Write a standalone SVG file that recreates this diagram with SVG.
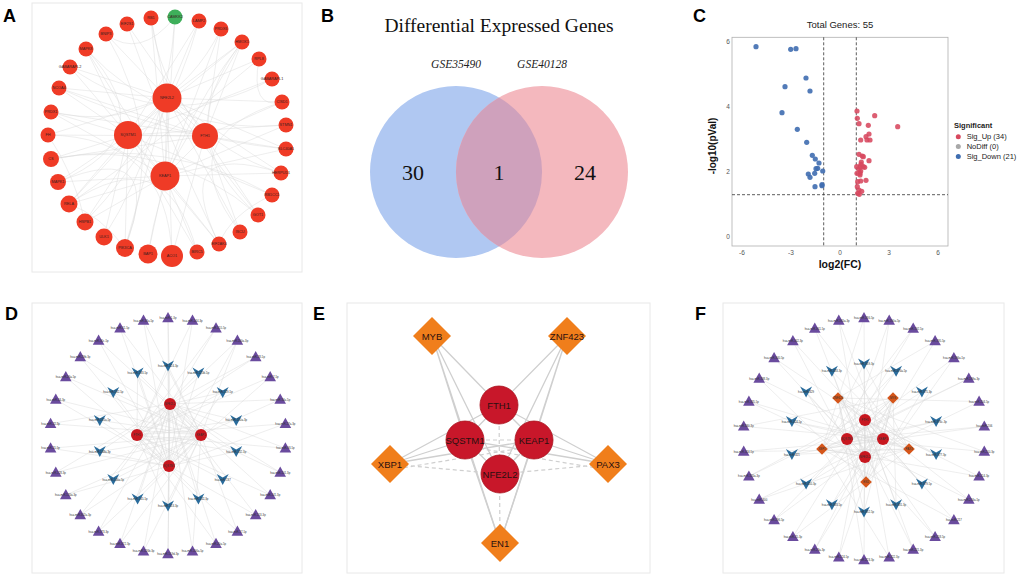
<svg xmlns="http://www.w3.org/2000/svg" xmlns:xlink="http://www.w3.org/1999/xlink" width="1020" height="577" viewBox="0 0 1020 577">
<style>
text{font-family:"Liberation Sans",Arial,sans-serif}
.serif{font-family:"Liberation Serif","Times New Roman",serif}
.box{fill:#fff;stroke:#e8e8e8;stroke-width:1}
.panel{font-size:18px;font-weight:bold;fill:#000}
.ea{stroke:#d9d9d9;stroke-width:.45;fill:none}
.an{fill:#ef3b26}
.ag{fill:#3eaf5a}
.at{font-size:3.8px;fill:#3a2020;text-anchor:middle;dominant-baseline:central}
.ed{stroke:#d9d9d9;stroke-width:.45;fill:none}
.tri{fill:#6a4b9e}
.vee{fill:#2a6c9c}
.dc{fill:#c8171f}
.fdm{fill:#d5561a}
.mt{font-size:2.8px;fill:#333;text-anchor:middle;dominant-baseline:central}
.ee{stroke:#cfcfcf;stroke-width:1.3;fill:none}
.eed{stroke:#cfcfcf;stroke-width:1.2;fill:none;stroke-dasharray:4 3}
.ec{fill:#c8172a;stroke:#a8101c;stroke-width:.8}
.edm{fill:#f07e1b}
.et{font-size:9.5px;fill:#2a1010;text-anchor:middle;dominant-baseline:central}
.tick{font-size:6.5px;fill:#555;text-anchor:middle}
.dash{stroke:#333;stroke-width:.8;stroke-dasharray:3 2;fill:none}
.up{fill:#d7485e;opacity:.88}
.dn{fill:#3f6db0;opacity:.9}
.leg{font-size:7.5px;fill:#222}
</style>
<defs>
<polygon id="tri" class="tri" points="0,-6 5.8,4.2 -5.8,4.2"/>
<path id="vee" class="vee" d="M-6,-5.5L0,-2L6,-5.5L0,5.5Z"/>
<polygon id="dia" class="fdm" points="0,-5.8 5.8,0 0,5.8 -5.8,0"/>
</defs>
<rect width="1020" height="577" fill="#fff"/>

<g id="panel-letters">
<text class="panel" x="3" y="22">A</text>
<text class="panel" x="321" y="22">B</text>
<text class="panel" x="693" y="22">C</text>
<text class="panel" x="5" y="320">D</text>
<text class="panel" x="313" y="320">E</text>
<text class="panel" x="695" y="320">F</text>
</g>

<!-- ================= PANEL A ================= -->
<rect class="box" x="32" y="3" width="270" height="269"/>
<g id="connectors-A">
<path class="ea" d="M167,98L151,18M167,98L106,34M167,98L70,67M167,98L59,88M167,98L48,135M167,98L69,204M167,98L85,222M167,98L125,248M167,98L172,256M167,98L258,215M167,98L281,173M167,98L286,149M167,98L282,102M167,98L259,59M167,98L242,42M167,98L199,21M167,98L240,232M167,98L128,135M167,98L205,136M167,98L165,176"/>
<path class="ea" d="M128,135L86,49M128,135L70,67M128,135L272,79M128,135L199,21M128,135L59,88M128,135L51,112M128,135L51,159M128,135L58,182M128,135L69,204M128,135L104,237M128,135L125,248M128,135L272,195M128,135L197,252M128,135L219,244M128,135L242,42M128,135L286,125M128,135L165,176M128,135L205,136"/>
<path class="ea" d="M205,136L59,88M205,136L51,112M205,136L172,256M205,136L240,232M205,136L242,42M205,136L286,149M205,136L282,102M205,136L258,215M205,136L221,29M205,136L48,135M205,136L51,159M205,136L127,24M205,136L165,176"/>
<path class="ea" d="M165,176L242,42M165,176L51,112M165,176L221,29M165,176L286,149M165,176L58,182M165,176L86,49M165,176L148,254M165,176L69,204M165,176L85,222M165,176L219,244M165,176L197,252M165,176L175,17M165,176L151,18M165,176L286,125M165,176L281,173"/>
<path class="ea" d="M151,18Q167,137 281,173M127,24Q167,137 219,244M86,49Q167,137 58,182M70,67Q167,137 272,79M106,34Q167,137 125,248M48,135Q167,137 172,256M51,159Q167,137 258,215M259,59Q167,137 69,204M199,21Q167,137 85,222M221,29Q167,137 51,112M286,125Q167,137 86,49M175,17Q167,137 104,237M59,88Q167,137 286,149M240,232Q167,137 282,102M219,244Q167,137 281,173M58,182Q167,137 125,248M242,42Q167,137 148,254M272,195Q167,137 51,159M197,252Q167,137 69,204M258,215Q167,137 242,42M69,204Q100,215 125,248M48,135Q75,175 85,222M259,59Q250,110 282,102M106,34Q140,60 175,17M272,195Q230,215 219,244"/>
</g>
<g id="a-rb1"><circle class="an" cx="151" cy="18" r="7.5"/><text class="at" x="151" y="18">RB1</text></g>
<g id="a-eif2s1"><circle class="an" cx="127" cy="24" r="7.5"/><text class="at" x="127" y="24">EIF2S1</text></g>
<g id="a-bnip3"><circle class="an" cx="106" cy="34" r="7.5"/><text class="at" x="106" y="34">BNIP3</text></g>
<g id="a-mapk8"><circle class="an" cx="86" cy="49" r="7.5"/><text class="at" x="86" y="49">MAPK8</text></g>
<g id="a-gabarapl2"><circle class="an" cx="70" cy="67" r="7.5"/><text class="at" x="70" y="67">GABARAPL2</text></g>
<g id="a-ncoa4"><circle class="an" cx="59" cy="88" r="7.5"/><text class="at" x="59" y="88">NCOA4</text></g>
<g id="a-prdx1"><circle class="an" cx="51" cy="112" r="7.5"/><text class="at" x="51" y="112">PRDX1</text></g>
<g id="a-fh"><circle class="an" cx="48" cy="135" r="7.5"/><text class="at" x="48" y="135">FH</text></g>
<g id="a-cs"><circle class="an" cx="51" cy="159" r="8"/><text class="at" x="51" y="159">CS</text></g>
<g id="a-mapk1"><circle class="an" cx="58" cy="182" r="8"/><text class="at" x="58" y="182">MAPK1</text></g>
<g id="a-rela"><circle class="an" cx="69" cy="204" r="8.5"/><text class="at" x="69" y="204">RELA</text></g>
<g id="a-hspb1"><circle class="an" cx="85" cy="222" r="8.5"/><text class="at" x="85" y="222">HSPB1</text></g>
<g id="a-ulk1"><circle class="an" cx="104" cy="237" r="8.5"/><text class="at" x="104" y="237">ULK1</text></g>
<g id="a-pik3ca"><circle class="an" cx="125" cy="248" r="9"/><text class="at" x="125" y="248">PIK3CA</text></g>
<g id="a-bap1"><circle class="an" cx="148" cy="254" r="9.5"/><text class="at" x="148" y="254">BAP1</text></g>
<g id="a-aco1"><circle class="an" cx="172" cy="256" r="11"/><text class="at" x="172" y="256">ACO1</text></g>
<g id="a-birc5"><circle class="an" cx="197" cy="252" r="7.5"/><text class="at" x="197" y="252">BIRC5</text></g>
<g id="a-eif2ak4"><circle class="an" cx="219" cy="244" r="7.5"/><text class="at" x="219" y="244">EIF2AK4</text></g>
<g id="a-iscu"><circle class="an" cx="240" cy="232" r="7.5"/><text class="at" x="240" y="232">ISCU</text></g>
<g id="a-got1"><circle class="an" cx="258" cy="215" r="7.5"/><text class="at" x="258" y="215">GOT1</text></g>
<g id="a-rb1cc1"><circle class="an" cx="272" cy="195" r="7.5"/><text class="at" x="272" y="195">RB1CC1</text></g>
<g id="a-herpud1"><circle class="an" cx="281" cy="173" r="7.5"/><text class="at" x="281" y="173">HERPUD1</text></g>
<g id="a-slc40a1"><circle class="an" cx="286" cy="149" r="7.5"/><text class="at" x="286" y="149">SLC40A1</text></g>
<g id="a-stmn1"><circle class="an" cx="286" cy="125" r="7.5"/><text class="at" x="286" y="125">STMN1</text></g>
<g id="a-cisd1"><circle class="an" cx="282" cy="102" r="7.5"/><text class="at" x="282" y="102">CISD1</text></g>
<g id="a-gabarapl1"><circle class="an" cx="272" cy="79" r="7.5"/><text class="at" x="272" y="79">GABARAPL1</text></g>
<g id="a-rpl8"><circle class="an" cx="259" cy="59" r="7.5"/><text class="at" x="259" y="59">RPL8</text></g>
<g id="a-hmox1"><circle class="an" cx="242" cy="42" r="7.5"/><text class="at" x="242" y="42">HMOX1</text></g>
<g id="a-prdx6"><circle class="an" cx="221" cy="29" r="7.5"/><text class="at" x="221" y="29">PRDX6</text></g>
<g id="a-lamp2"><circle class="an" cx="199" cy="21" r="7.5"/><text class="at" x="199" y="21">LAMP2</text></g>
<g id="a-camkk2"><circle class="ag" cx="175" cy="17" r="7.5"/><text class="at" x="175" y="17">CAMKK2</text></g>
<g id="a-nfe2l2"><circle class="an" cx="167" cy="98" r="14.5"/><text class="at" x="167" y="98">NFE2L2</text></g>
<g id="a-sqstm1"><circle class="an" cx="128" cy="135" r="14"/><text class="at" x="128" y="135">SQSTM1</text></g>
<g id="a-fth1"><circle class="an" cx="205" cy="136" r="13"/><text class="at" x="205" y="136">FTH1</text></g>
<g id="a-keap1"><circle class="an" cx="165" cy="176" r="14.5"/><text class="at" x="165" y="176">KEAP1</text></g>

<!-- ================= PANEL B ================= -->
<g id="venn">
<text class="serif" x="499" y="32" font-size="19.5" text-anchor="middle" fill="#111">Differential Expressed Genes</text>
<text class="serif" x="456" y="68" font-size="11.5" font-style="italic" text-anchor="middle" fill="#222">GSE35490</text>
<text class="serif" x="542" y="68" font-size="11.5" font-style="italic" text-anchor="middle" fill="#222">GSE40128</text>
<g id="set-gse35490"><circle cx="456" cy="172" r="86" fill="#b0c8f2"/></g>
<g id="set-gse40128"><circle cx="542" cy="172" r="86" fill="#f4b8be"/></g>
<g id="set-overlap"><path d="M499,97.5A86,86 0 0,1 499,246.5A86,86 0 0,1 499,97.5Z" fill="#cfa1bc"/></g>
<text class="serif" x="413" y="180" font-size="22" text-anchor="middle" fill="#111">30</text>
<text class="serif" x="499" y="180" font-size="22" text-anchor="middle" fill="#111">1</text>
<text class="serif" x="585" y="180" font-size="22" text-anchor="middle" fill="#111">24</text>
</g>

<!-- ================= PANEL C ================= -->
<g id="volcano">
<text x="840" y="28.3" font-size="9.5" text-anchor="middle" fill="#222">Total Genes: 55</text>
<rect x="732" y="37.3" width="216" height="208.7" fill="none" stroke="#b0b0b0" stroke-width=".8"/>
<line class="dash" x1="823.7" y1="37.3" x2="823.7" y2="246"/>
<line class="dash" x1="856.3" y1="37.3" x2="856.3" y2="246"/>
<line class="dash" x1="732" y1="194.7" x2="948" y2="194.7"/>
<g id="points-down">
<circle class="dn" cx="756" cy="46.7" r="2.6"/><circle class="dn" cx="790.7" cy="49.3" r="2.6"/><circle class="dn" cx="796" cy="48.7" r="2.6"/><circle class="dn" cx="806" cy="78" r="2.6"/><circle class="dn" cx="785" cy="86.7" r="2.6"/><circle class="dn" cx="810" cy="91" r="2.6"/><circle class="dn" cx="782" cy="112.7" r="2.6"/><circle class="dn" cx="797.3" cy="129.3" r="2.6"/><circle class="dn" cx="806.7" cy="142.3" r="2.6"/><circle class="dn" cx="812.3" cy="155.3" r="2.6"/><circle class="dn" cx="815.3" cy="159" r="2.6"/><circle class="dn" cx="819" cy="163" r="2.6"/><circle class="dn" cx="817.7" cy="168.3" r="2.6"/><circle class="dn" cx="816" cy="168.7" r="2.6"/><circle class="dn" cx="822.7" cy="171" r="2.6"/><circle class="dn" cx="814.7" cy="173.3" r="2.6"/><circle class="dn" cx="808.3" cy="174" r="2.6"/><circle class="dn" cx="810" cy="177.3" r="2.6"/><circle class="dn" cx="815" cy="186.7" r="2.6"/><circle class="dn" cx="822" cy="185.7" r="2.6"/><circle class="dn" cx="822" cy="184.7" r="2.6"/>
</g>
<g id="points-up">
<circle class="up" cx="857" cy="111" r="2.6"/><circle class="up" cx="857.3" cy="118.3" r="2.6"/><circle class="up" cx="859" cy="123.7" r="2.6"/><circle class="up" cx="874.7" cy="115.7" r="2.6"/><circle class="up" cx="868.3" cy="125.3" r="2.6"/><circle class="up" cx="897.7" cy="126.7" r="2.6"/><circle class="up" cx="869" cy="134" r="2.6"/><circle class="up" cx="866" cy="136.7" r="2.6"/><circle class="up" cx="867" cy="140" r="2.6"/><circle class="up" cx="860.7" cy="140" r="2.6"/><circle class="up" cx="859" cy="154.3" r="2.6"/><circle class="up" cx="862.3" cy="156" r="2.6"/><circle class="up" cx="869" cy="160.7" r="2.6"/><circle class="up" cx="861.3" cy="162" r="2.6"/><circle class="up" cx="856.7" cy="166.7" r="2.6"/><circle class="up" cx="860" cy="166.7" r="2.6"/><circle class="up" cx="863.3" cy="166.7" r="2.6"/><circle class="up" cx="864.7" cy="167.3" r="2.6"/><circle class="up" cx="859" cy="169.3" r="2.6"/><circle class="up" cx="860.7" cy="171" r="2.6"/><circle class="up" cx="860" cy="173.3" r="2.6"/><circle class="up" cx="860" cy="175" r="2.6"/><circle class="up" cx="857.7" cy="181.7" r="2.6"/><circle class="up" cx="860.7" cy="181" r="2.6"/><circle class="up" cx="866" cy="180.3" r="2.6"/><circle class="up" cx="857.3" cy="186.7" r="2.6"/><circle class="up" cx="859" cy="190" r="2.6"/><circle class="up" cx="861.7" cy="191.3" r="2.6"/><circle class="up" cx="857.7" cy="193.3" r="2.6"/><circle class="up" cx="859.3" cy="194.3" r="2.6"/><circle class="up" cx="857" cy="173.3" r="2.6"/><circle class="up" cx="861" cy="164.3" r="2.6"/><circle class="up" cx="863.3" cy="156.7" r="2.6"/><circle class="up" cx="870" cy="140" r="2.6"/>
</g>
<text class="tick" x="742" y="254.5">-6</text>
<text class="tick" x="791" y="254.5">-3</text>
<text class="tick" x="840" y="254.5">0</text>
<text class="tick" x="889" y="254.5">3</text>
<text class="tick" x="938" y="254.5">6</text>
<text class="tick" x="728" y="239.3">0</text>
<text class="tick" x="728" y="174.3">2</text>
<text class="tick" x="728" y="109.3">4</text>
<text class="tick" x="728" y="44.3">6</text>
<text x="840" y="268" font-size="10.5" font-weight="bold" text-anchor="middle" fill="#111">log2(FC)</text>
<text x="716" y="146" font-size="10" font-weight="bold" text-anchor="middle" fill="#111" transform="rotate(-90 716 146)">-log10(pVal)</text>
<g id="legend">
<text class="leg" x="954" y="127.7" font-weight="bold">Significant</text>
<circle cx="958.3" cy="136.8" r="2.5" fill="#d7485e"/><text class="leg" x="966.7" y="139.3">Sig_Up (34)</text>
<circle cx="958.3" cy="146.5" r="2.5" fill="#a8a8a8"/><text class="leg" x="966.7" y="149">NoDiff (0)</text>
<circle cx="958.3" cy="156.5" r="2.5" fill="#3f6db0"/><text class="leg" x="966.7" y="159">Sig_Down (21)</text>
</g>
</g>

<!-- ================= PANEL D ================= -->
<rect class="box" x="32" y="303" width="270" height="270"/>
<g id="connectors-D">
<path class="ed" d="M168,318L170,404M168,318L169,466M192.5,320.6L137,435M192.5,320.6L169,466M216,328.2L170,404M216,328.2L137,435M237.4,340.5L201,435M237.4,340.5L169,466M237.4,340.5L137,435M255.7,357L170,404M255.7,357L137,435M270.2,377L137,435M270.2,377L169,466M280.2,399.5L170,404M280.2,399.5L201,435M285.4,423.7L137,435M285.4,423.7L169,466M285.4,448.3L170,404M285.4,448.3L137,435M280.2,472.5L201,435M280.2,472.5L170,404M270.2,495L137,435M270.2,495L170,404M255.7,515L169,466M255.7,515L170,404M237.4,531.5L137,435M237.4,531.5L201,435M216,543.8L170,404M216,543.8L137,435M192.5,551.4L170,404M192.5,551.4L201,435M168,554L170,404M168,554L169,466M143.5,551.4L170,404M143.5,551.4L201,435M120,543.8L201,435M120,543.8L170,404M98.6,531.5L201,435M98.6,531.5L170,404M80.3,515L170,404M80.3,515L201,435M65.8,495L201,435M65.8,495L169,466M55.8,472.5L170,404M55.8,472.5L201,435M50.6,448.3L201,435M50.6,448.3L169,466M50.6,423.7L201,435M50.6,423.7L170,404M55.8,399.5L169,466M55.8,399.5L201,435M65.8,377L201,435M65.8,377L169,466M80.3,357L169,466M80.3,357L201,435M98.6,340.5L169,466M98.6,340.5L201,435M120,328.2L201,435M120,328.2L169,466M143.5,320.6L201,435M143.5,320.6L169,466"/>
<path class="ed" d="M168,366L137,435M168,366L201,435M168,366L169,466M198.4,372.9L137,435M198.4,372.9L169,466M222.7,392.4L137,435M222.7,392.4L169,466M222.7,392.4L170,404M236.2,420.4L137,435M236.2,420.4L170,404M236.2,451.6L137,435M236.2,451.6L170,404M236.2,451.6L169,466M222.7,479.6L170,404M222.7,479.6L137,435M198.4,499.1L170,404M198.4,499.1L137,435M168,506L170,404M168,506L137,435M168,506L201,435M137.6,499.1L170,404M137.6,499.1L201,435M113.3,479.6L201,435M113.3,479.6L170,404M99.8,451.6L201,435M99.8,451.6L170,404M99.8,451.6L169,466M99.8,420.4L201,435M99.8,420.4L169,466M113.3,392.4L201,435M113.3,392.4L169,466M137.6,372.9L201,435M137.6,372.9L169,466M137.6,372.9L137,435"/>
</g>
<g id="d-t0"><use href="#tri" x="168" y="318"/><text class="mt" x="168" y="318">hsa-miR-1-3p</text></g>
<g id="d-t1"><use href="#tri" x="192.5" y="320.6"/><text class="mt" x="192.5" y="320.6">hsa-miR-144-3p</text></g>
<g id="d-t2"><use href="#tri" x="216" y="328.2"/><text class="mt" x="216" y="328.2">hsa-miR-155-5p</text></g>
<g id="d-t3"><use href="#tri" x="237.4" y="340.5"/><text class="mt" x="237.4" y="340.5">hsa-miR-200a-3p</text></g>
<g id="d-t4"><use href="#tri" x="255.7" y="357"/><text class="mt" x="255.7" y="357">hsa-miR-28-5p</text></g>
<g id="d-t5"><use href="#tri" x="270.2" y="377"/><text class="mt" x="270.2" y="377">hsa-miR-7-5p</text></g>
<g id="d-t6"><use href="#tri" x="280.2" y="399.5"/><text class="mt" x="280.2" y="399.5">hsa-miR-34a-5p</text></g>
<g id="d-t7"><use href="#tri" x="285.4" y="423.7"/><text class="mt" x="285.4" y="423.7">hsa-miR-27a-3p</text></g>
<g id="d-t8"><use href="#tri" x="285.4" y="448.3"/><text class="mt" x="285.4" y="448.3">hsa-miR-93-5p</text></g>
<g id="d-t9"><use href="#tri" x="280.2" y="472.5"/><text class="mt" x="280.2" y="472.5">hsa-miR-101-3p</text></g>
<g id="d-t10"><use href="#tri" x="270.2" y="495"/><text class="mt" x="270.2" y="495">hsa-miR-141-3p</text></g>
<g id="d-t11"><use href="#tri" x="255.7" y="515"/><text class="mt" x="255.7" y="515">hsa-miR-153-3p</text></g>
<g id="d-t12"><use href="#tri" x="237.4" y="531.5"/><text class="mt" x="237.4" y="531.5">hsa-miR-17-5p</text></g>
<g id="d-t13"><use href="#tri" x="216" y="543.8"/><text class="mt" x="216" y="543.8">hsa-miR-20a-5p</text></g>
<g id="d-t14"><use href="#tri" x="192.5" y="551.4"/><text class="mt" x="192.5" y="551.4">hsa-miR-106a-5p</text></g>
<g id="d-t15"><use href="#tri" x="168" y="554"/><text class="mt" x="168" y="554">hsa-miR-519d-3p</text></g>
<g id="d-t16"><use href="#tri" x="143.5" y="551.4"/><text class="mt" x="143.5" y="551.4">hsa-miR-526b-3p</text></g>
<g id="d-t17"><use href="#tri" x="120" y="543.8"/><text class="mt" x="120" y="543.8">hsa-miR-372-3p</text></g>
<g id="d-t18"><use href="#tri" x="98.6" y="531.5"/><text class="mt" x="98.6" y="531.5">hsa-miR-373-3p</text></g>
<g id="d-t19"><use href="#tri" x="80.3" y="515"/><text class="mt" x="80.3" y="515">hsa-miR-302a-3p</text></g>
<g id="d-t20"><use href="#tri" x="65.8" y="495"/><text class="mt" x="65.8" y="495">hsa-miR-520a-3p</text></g>
<g id="d-t21"><use href="#tri" x="55.8" y="472.5"/><text class="mt" x="55.8" y="472.5">hsa-miR-128-3p</text></g>
<g id="d-t22"><use href="#tri" x="50.6" y="448.3"/><text class="mt" x="50.6" y="448.3">hsa-miR-21-5p</text></g>
<g id="d-t23"><use href="#tri" x="50.6" y="423.7"/><text class="mt" x="50.6" y="423.7">hsa-miR-22-3p</text></g>
<g id="d-t24"><use href="#tri" x="55.8" y="399.5"/><text class="mt" x="55.8" y="399.5">hsa-miR-24-3p</text></g>
<g id="d-t25"><use href="#tri" x="65.8" y="377"/><text class="mt" x="65.8" y="377">hsa-miR-26a-5p</text></g>
<g id="d-t26"><use href="#tri" x="80.3" y="357"/><text class="mt" x="80.3" y="357">hsa-miR-29b-3p</text></g>
<g id="d-t27"><use href="#tri" x="98.6" y="340.5"/><text class="mt" x="98.6" y="340.5">hsa-miR-30c-5p</text></g>
<g id="d-t28"><use href="#tri" x="120" y="328.2"/><text class="mt" x="120" y="328.2">hsa-miR-31-5p</text></g>
<g id="d-t29"><use href="#tri" x="143.5" y="320.6"/><text class="mt" x="143.5" y="320.6">hsa-miR-33a-5p</text></g>
<g id="d-v0"><use href="#vee" x="168" y="366"/><text class="mt" x="168" y="366">hsa-miR-124-3p</text></g>
<g id="d-v1"><use href="#vee" x="198.4" y="372.9"/><text class="mt" x="198.4" y="372.9">hsa-miR-125b-5p</text></g>
<g id="d-v2"><use href="#vee" x="222.7" y="392.4"/><text class="mt" x="222.7" y="392.4">hsa-miR-129-5p</text></g>
<g id="d-v3"><use href="#vee" x="236.2" y="420.4"/><text class="mt" x="236.2" y="420.4">hsa-miR-130a-3p</text></g>
<g id="d-v4"><use href="#vee" x="236.2" y="451.6"/><text class="mt" x="236.2" y="451.6">hsa-miR-132-3p</text></g>
<g id="d-v5"><use href="#vee" x="222.7" y="479.6"/><text class="mt" x="222.7" y="479.6">hsa-miR-137</text></g>
<g id="d-v6"><use href="#vee" x="198.4" y="499.1"/><text class="mt" x="198.4" y="499.1">hsa-miR-142-3p</text></g>
<g id="d-v7"><use href="#vee" x="168" y="506"/><text class="mt" x="168" y="506">hsa-miR-143-3p</text></g>
<g id="d-v8"><use href="#vee" x="137.6" y="499.1"/><text class="mt" x="137.6" y="499.1">hsa-miR-145-5p</text></g>
<g id="d-v9"><use href="#vee" x="113.3" y="479.6"/><text class="mt" x="113.3" y="479.6">hsa-miR-146a-5p</text></g>
<g id="d-v10"><use href="#vee" x="99.8" y="451.6"/><text class="mt" x="99.8" y="451.6">hsa-miR-148a-3p</text></g>
<g id="d-v11"><use href="#vee" x="99.8" y="420.4"/><text class="mt" x="99.8" y="420.4">hsa-miR-181a-5p</text></g>
<g id="d-v12"><use href="#vee" x="113.3" y="392.4"/><text class="mt" x="113.3" y="392.4">hsa-miR-182-5p</text></g>
<g id="d-v13"><use href="#vee" x="137.6" y="372.9"/><text class="mt" x="137.6" y="372.9">hsa-miR-183-5p</text></g>
<g id="d-nfe2l2"><circle class="dc" cx="170" cy="404" r="6"/><text class="mt" x="170" y="404">NFE2L2</text></g>
<g id="d-fth1"><circle class="dc" cx="137" cy="435" r="6"/><text class="mt" x="137" y="435">FTH1</text></g>
<g id="d-keap1"><circle class="dc" cx="201" cy="435" r="6"/><text class="mt" x="201" y="435">KEAP1</text></g>
<g id="d-sqstm1"><circle class="dc" cx="169" cy="466" r="6"/><text class="mt" x="169" y="466">SQSTM1</text></g>

<!-- ================= PANEL E ================= -->
<rect class="box" x="347" y="303" width="303" height="270"/>
<g id="connectors-E">
<path class="ee" d="M432,336L499,405M432,336L465,440M432,336L500,474M432,336L500,543"/>
<path class="ee" d="M567,336L499,405M567,336L534,440M567,336L500,474M567,336L500,543"/>
<path class="ee" d="M390,464L465,440M390,464L499,405M390,464L534,440"/>
<path class="ee" d="M608,464L534,440M608,464L499,405M608,464L465,440"/>
<path class="ee" d="M500,543L465,440M500,543L534,440"/>
<path class="ee" d="M499,405L465,440M499,405L534,440M465,440L500,474M534,440L500,474"/>
<path class="eed" d="M390,464L500,474M608,464L500,474M390,470L534,446M608,470L465,446M499,405L500,543M465,440L534,440"/>
</g>
<g id="e-fth1"><circle class="ec" cx="499" cy="405" r="19"/><text class="et" x="499" y="405">FTH1</text></g>
<g id="e-sqstm1"><circle class="ec" cx="465" cy="440" r="19"/><text class="et" x="465" y="440">SQSTM1</text></g>
<g id="e-keap1"><circle class="ec" cx="534" cy="440" r="19"/><text class="et" x="534" y="440">KEAP1</text></g>
<g id="e-nfe2l2"><circle class="ec" cx="500" cy="474" r="19"/><text class="et" x="500" y="474">NFE2L2</text></g>
<g id="e-myb"><polygon class="edm" points="432,317 451,336 432,355 413,336"/><text class="et" x="432" y="336">MYB</text></g>
<g id="e-znf423"><polygon class="edm" points="567,317 586,336 567,355 548,336"/><text class="et" x="567" y="336">ZNF423</text></g>
<g id="e-xbp1"><polygon class="edm" points="390,445 409,464 390,483 371,464"/><text class="et" x="390" y="464">XBP1</text></g>
<g id="e-pax3"><polygon class="edm" points="608,445 627,464 608,483 589,464"/><text class="et" x="608" y="464">PAX3</text></g>
<g id="e-en1"><polygon class="edm" points="500,524 519,543 500,562 481,543"/><text class="et" x="500" y="543">EN1</text></g>

<!-- ================= PANEL F ================= -->
<rect class="box" x="723" y="303" width="281" height="270"/>
<g id="connectors-F">
<path class="ed" d="M864,318L865,457M864,318L822,449M889.2,320.6L847,439M889.2,320.6L866,482M913.2,328.5L847,439M913.2,328.5L822,449M935.1,341.1L865,457M935.1,341.1L838,398M953.9,358L847,439M953.9,358L866,482M968.8,378.5L847,439M968.8,378.5L822,449M979.1,401.6L865,457M979.1,401.6L838,398M984.3,426.4L847,439M984.3,426.4L822,449M984.3,451.6L847,439M984.3,451.6L838,398M979.1,476.4L865,420M979.1,476.4L822,449M968.8,499.5L847,439M968.8,499.5L838,398M953.9,520L865,420M953.9,520L822,449M935.1,536.9L847,439M935.1,536.9L838,398M913.2,549.5L865,420M913.2,549.5L838,398M889.2,557.4L865,420M889.2,557.4L822,449M864,560L865,420M864,560L838,398"/>
<path class="ed" d="M838.8,557.4L865,420M838.8,557.4L893,398M814.8,549.5L883,439M814.8,549.5L893,398M792.9,536.9L865,420M792.9,536.9L909,449M774.1,520L883,439M774.1,520L893,398M759.2,499.5L883,439M759.2,499.5L909,449M748.9,476.4L865,420M748.9,476.4L893,398M743.7,451.6L883,439M743.7,451.6L909,449M743.7,426.4L883,439M743.7,426.4L893,398M748.9,401.6L865,457M748.9,401.6L909,449M759.2,378.5L883,439M759.2,378.5L866,482M774.1,358L865,457M774.1,358L909,449M792.9,341.1L883,439M792.9,341.1L866,482M814.8,328.5L865,457M814.8,328.5L909,449M838.8,320.6L883,439M838.8,320.6L866,482"/>
<path class="ed" d="M864,364L865,457M864,364L822,449M864,364L909,449M896.1,371.3L847,439M896.1,371.3L822,449M921.9,391.9L847,439M921.9,391.9L866,482M936.1,421.5L847,439M936.1,421.5L822,449M936.1,454.5L865,420M936.1,454.5L838,398M921.9,484.1L865,420M921.9,484.1L838,398M896.1,504.7L865,420M896.1,504.7L893,398M864,512L865,420M864,512L838,398M864,512L893,398M831.9,504.7L883,439M831.9,504.7L893,398M806.1,484.1L883,439M806.1,484.1L893,398M791.9,454.5L883,439M791.9,454.5L909,449M791.9,421.5L883,439M791.9,421.5L909,449M806.1,391.9L865,457M806.1,391.9L866,482M831.9,371.3L865,457M831.9,371.3L909,449"/>
<path class="ed" d="M838,398L865,420M838,398L847,439M893,398L865,420M893,398L883,439M822,449L847,439M822,449L865,457M909,449L883,439M909,449L865,457M866,482L865,457M866,482L847,439M866,482L883,439"/>
</g>
<g id="f-t0"><use href="#tri" x="864" y="318"/><text class="mt" x="864" y="318">hsa-miR-186-5p</text></g>
<g id="f-t1"><use href="#tri" x="889.2" y="320.6"/><text class="mt" x="889.2" y="320.6">hsa-miR-190a-5p</text></g>
<g id="f-t2"><use href="#tri" x="913.2" y="328.5"/><text class="mt" x="913.2" y="328.5">hsa-miR-192-5p</text></g>
<g id="f-t3"><use href="#tri" x="935.1" y="341.1"/><text class="mt" x="935.1" y="341.1">hsa-miR-195-5p</text></g>
<g id="f-t4"><use href="#tri" x="953.9" y="358"/><text class="mt" x="953.9" y="358">hsa-miR-196a-5p</text></g>
<g id="f-t5"><use href="#tri" x="968.8" y="378.5"/><text class="mt" x="968.8" y="378.5">hsa-miR-199a-3p</text></g>
<g id="f-t6"><use href="#tri" x="979.1" y="401.6"/><text class="mt" x="979.1" y="401.6">hsa-miR-204-5p</text></g>
<g id="f-t7"><use href="#tri" x="984.3" y="426.4"/><text class="mt" x="984.3" y="426.4">hsa-miR-206</text></g>
<g id="f-t8"><use href="#tri" x="984.3" y="451.6"/><text class="mt" x="984.3" y="451.6">hsa-miR-210-3p</text></g>
<g id="f-t9"><use href="#tri" x="979.1" y="476.4"/><text class="mt" x="979.1" y="476.4">hsa-miR-214-3p</text></g>
<g id="f-t10"><use href="#tri" x="968.8" y="499.5"/><text class="mt" x="968.8" y="499.5">hsa-miR-216a-5p</text></g>
<g id="f-t11"><use href="#tri" x="953.9" y="520"/><text class="mt" x="953.9" y="520">hsa-miR-217</text></g>
<g id="f-t12"><use href="#tri" x="935.1" y="536.9"/><text class="mt" x="935.1" y="536.9">hsa-miR-218-5p</text></g>
<g id="f-t13"><use href="#tri" x="913.2" y="549.5"/><text class="mt" x="913.2" y="549.5">hsa-miR-221-3p</text></g>
<g id="f-t14"><use href="#tri" x="889.2" y="557.4"/><text class="mt" x="889.2" y="557.4">hsa-miR-222-3p</text></g>
<g id="f-t15"><use href="#tri" x="864" y="560"/><text class="mt" x="864" y="560">hsa-miR-223-3p</text></g>
<g id="f-t16"><use href="#tri" x="838.8" y="557.4"/><text class="mt" x="838.8" y="557.4">hsa-miR-224-5p</text></g>
<g id="f-t17"><use href="#tri" x="814.8" y="549.5"/><text class="mt" x="814.8" y="549.5">hsa-miR-23a-3p</text></g>
<g id="f-t18"><use href="#tri" x="792.9" y="536.9"/><text class="mt" x="792.9" y="536.9">hsa-miR-25-3p</text></g>
<g id="f-t19"><use href="#tri" x="774.1" y="520"/><text class="mt" x="774.1" y="520">hsa-miR-296-5p</text></g>
<g id="f-t20"><use href="#tri" x="759.2" y="499.5"/><text class="mt" x="759.2" y="499.5">hsa-miR-300</text></g>
<g id="f-t21"><use href="#tri" x="748.9" y="476.4"/><text class="mt" x="748.9" y="476.4">hsa-miR-320a-3p</text></g>
<g id="f-t22"><use href="#tri" x="743.7" y="451.6"/><text class="mt" x="743.7" y="451.6">hsa-miR-324-5p</text></g>
<g id="f-t23"><use href="#tri" x="743.7" y="426.4"/><text class="mt" x="743.7" y="426.4">hsa-miR-330-3p</text></g>
<g id="f-t24"><use href="#tri" x="748.9" y="401.6"/><text class="mt" x="748.9" y="401.6">hsa-miR-335-5p</text></g>
<g id="f-t25"><use href="#tri" x="759.2" y="378.5"/><text class="mt" x="759.2" y="378.5">hsa-miR-338-3p</text></g>
<g id="f-t26"><use href="#tri" x="774.1" y="358"/><text class="mt" x="774.1" y="358">hsa-miR-340-5p</text></g>
<g id="f-t27"><use href="#tri" x="792.9" y="341.1"/><text class="mt" x="792.9" y="341.1">hsa-miR-342-3p</text></g>
<g id="f-t28"><use href="#tri" x="814.8" y="328.5"/><text class="mt" x="814.8" y="328.5">hsa-miR-361-5p</text></g>
<g id="f-t29"><use href="#tri" x="838.8" y="320.6"/><text class="mt" x="838.8" y="320.6">hsa-miR-365a-3p</text></g>
<g id="f-v0"><use href="#vee" x="864" y="364"/><text class="mt" x="864" y="364">hsa-miR-369-3p</text></g>
<g id="f-v1"><use href="#vee" x="896.1" y="371.3"/><text class="mt" x="896.1" y="371.3">hsa-miR-374a-5p</text></g>
<g id="f-v2"><use href="#vee" x="921.9" y="391.9"/><text class="mt" x="921.9" y="391.9">hsa-miR-375-3p</text></g>
<g id="f-v3"><use href="#vee" x="936.1" y="421.5"/><text class="mt" x="936.1" y="421.5">hsa-miR-376c-3p</text></g>
<g id="f-v4"><use href="#vee" x="936.1" y="454.5"/><text class="mt" x="936.1" y="454.5">hsa-miR-377-3p</text></g>
<g id="f-v5"><use href="#vee" x="921.9" y="484.1"/><text class="mt" x="921.9" y="484.1">hsa-miR-379-5p</text></g>
<g id="f-v6"><use href="#vee" x="896.1" y="504.7"/><text class="mt" x="896.1" y="504.7">hsa-miR-381-3p</text></g>
<g id="f-v7"><use href="#vee" x="864" y="512"/><text class="mt" x="864" y="512">hsa-miR-382-5p</text></g>
<g id="f-v8"><use href="#vee" x="831.9" y="504.7"/><text class="mt" x="831.9" y="504.7">hsa-miR-383-5p</text></g>
<g id="f-v9"><use href="#vee" x="806.1" y="484.1"/><text class="mt" x="806.1" y="484.1">hsa-miR-410-3p</text></g>
<g id="f-v10"><use href="#vee" x="791.9" y="454.5"/><text class="mt" x="791.9" y="454.5">hsa-miR-421</text></g>
<g id="f-v11"><use href="#vee" x="791.9" y="421.5"/><text class="mt" x="791.9" y="421.5">hsa-miR-424-5p</text></g>
<g id="f-v12"><use href="#vee" x="806.1" y="391.9"/><text class="mt" x="806.1" y="391.9">hsa-miR-429</text></g>
<g id="f-v13"><use href="#vee" x="831.9" y="371.3"/><text class="mt" x="831.9" y="371.3">hsa-miR-433-3p</text></g>
<g id="f-znf423"><use href="#dia" x="838" y="398"/><text class="mt" x="838" y="398">ZNF423</text></g>
<g id="f-myb"><use href="#dia" x="893" y="398"/><text class="mt" x="893" y="398">MYB</text></g>
<g id="f-xbp1"><use href="#dia" x="822" y="449"/><text class="mt" x="822" y="449">XBP1</text></g>
<g id="f-pax3"><use href="#dia" x="909" y="449"/><text class="mt" x="909" y="449">PAX3</text></g>
<g id="f-en1"><use href="#dia" x="866" y="482"/><text class="mt" x="866" y="482">EN1</text></g>
<g id="f-fth1"><circle class="dc" cx="865" cy="420" r="6"/><text class="mt" x="865" y="420">FTH1</text></g>
<g id="f-sqstm1"><circle class="dc" cx="847" cy="439" r="6"/><text class="mt" x="847" y="439">SQSTM1</text></g>
<g id="f-keap1"><circle class="dc" cx="883" cy="439" r="6"/><text class="mt" x="883" y="439">KEAP1</text></g>
<g id="f-nfe2l2"><circle class="dc" cx="865" cy="457" r="6"/><text class="mt" x="865" y="457">NFE2L2</text></g>
</svg>
